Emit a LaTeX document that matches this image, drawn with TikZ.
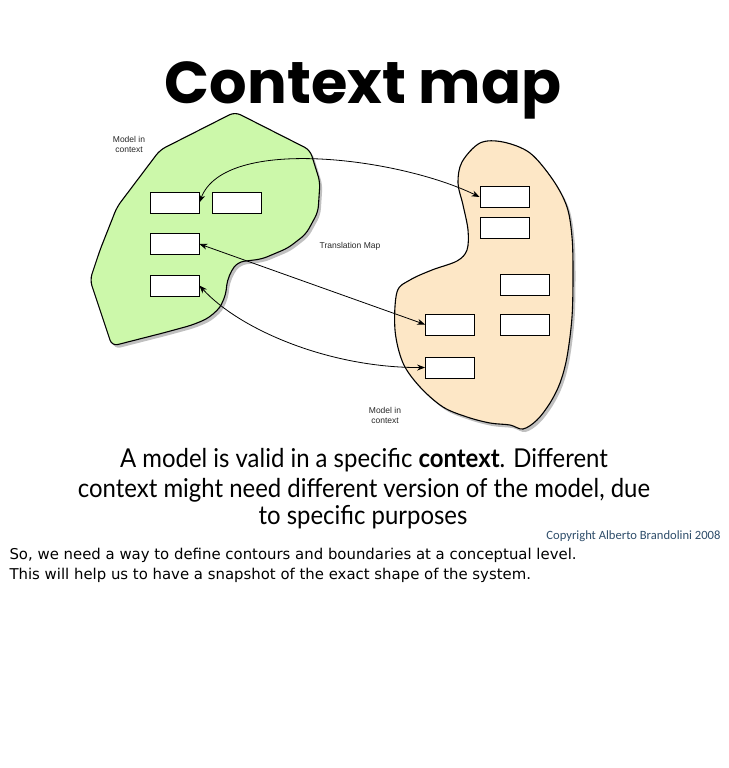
\documentclass[tikz,border=0pt]{standalone}
\usepackage{fontspec}
\setmainfont{Lato}
\newfontfamily\titlefont{Poppins}
\newfontfamily\capfont{Lato}[FakeStretch=0.92]
\newfontfamily\labelfont{Liberation Sans}
\newfontfamily\copyfont{Carlito}
\newfontfamily\notefont{DejaVu Sans}
\usetikzlibrary{arrows.meta,shadows}

\definecolor{ctxgreen}{RGB}{204,248,170}
\definecolor{ctxorange}{RGB}{253,231,198}
\definecolor{copyblue}{RGB}{47,78,107}
\definecolor{labelgray}{RGB}{40,40,40}

\tikzset{
  blob/.style={draw=black, line width=1.1pt, line join=round,
    drop shadow={shadow xshift=2.5pt, shadow yshift=-3pt, opacity=0.35, fill=black!70}},
  modelbox/.style={draw=black, fill=white, line width=0.8pt, inner sep=0pt,
    minimum width=49pt, minimum height=21pt},
  smalllabel/.style={font=\labelfont\fontsize{8.5}{10}\selectfont, text=labelgray, align=center},
  maplink/.style={line width=0.8pt, {Stealth[length=8pt,width=6pt]}-{Stealth[length=8pt,width=6pt]}},
  bodyline/.style={font=\capfont\fontsize{26}{30}\selectfont, anchor=base},
  noteline/.style={font=\notefont\fontsize{14.9}{19}\selectfont, anchor=base west}
}

\begin{document}
\begin{tikzpicture}[x=1pt,y=-1pt]
\useasboundingbox (0,0) rectangle (728,768);
\fill[white] (0,0) rectangle (728,768);

% title
\node[font=\titlefont\bfseries\fontsize{59}{59}\selectfont, anchor=base] (title) at (363,103) {Context map};

% left bounded context
\path[blob, fill=ctxgreen, rounded corners=6pt]
  (235,112) -- (310,150) -- (320,182) -- (318,212) -- (306,234) -- (288,248)
  -- (262,259) -- (238,262) [rounded corners=10pt] -- (228,275) -- (225,300)
  -- (214,315) -- (196,324) [rounded corners=6pt] -- (163,333) -- (112,346)
  -- (90,280) -- (100,250) -- (117,207) -- (160,150) -- cycle;

% right bounded context
\path[blob, fill=ctxorange]
  plot[smooth cycle, tension=0.55] coordinates {
  (480,143) (503,142) (530,153) (553,180) (567,207) (572,237) (573,273)
  (572,317) (567,357) (560,383) (550,403) (537,420) (523,429) (510,425)
  (490,423) (467,417) (443,407) (420,387) (403,363) (395,330) (397,292)
  (410,280) (432,270) (457,261) (467,250) (468,230) (463,205) (458,183)
  (462,162)};

% model elements
\node[modelbox] (a1) at (174.5,202.5) {};
\node[modelbox] (a2) at (237,202.5) {};
\node[modelbox] (b)  at (174.5,244) {};
\node[modelbox] (c)  at (174.5,285.5) {};
\node[modelbox] (d1) at (504.5,197) {};
\node[modelbox] (d2) at (504.5,228) {};
\node[modelbox] (e)  at (525,285) {};
\node[modelbox] (f)  at (450,324.5) {};
\node[modelbox] (g)  at (525,324.5) {};
\node[modelbox] (h)  at (450,367.5) {};

% labels
\node[smalllabel] (ctxleft)  at (129,144) {Model in\\context};
\node[smalllabel] (ctxright) at (385,415) {Model in\\context};
\node[smalllabel, anchor=center] (tmap) at (350,246) {Translation Map};

% translation map links
\draw[maplink] (a1.east) .. controls (225,135) and (400,158) .. (d1.west);
\draw[maplink] (b.east) -- (f.west);
\draw[maplink] (c.east) .. controls (240,330) and (330,368) .. (h.west);

% caption
\node[bodyline] (cap1) at (364,467) {A model is valid in a specific {\bfseries context}. Different};
\node[bodyline] (cap2) at (364,497) {context might need different version of the model, due};
\node[bodyline] (cap3) at (363,524) {to specific purposes};

\node[font=\copyfont\fontsize{12.6}{15}\selectfont, text=copyblue, anchor=base east] (copy) at (724,539) {Copyright Alberto Brandolini 2008};

\node[noteline] (note1) at (6,559) {So, we need a way to define contours and boundaries at a conceptual level.};
\node[noteline] (note2) at (6,579) {This will help us to have a snapshot of the exact shape of the system.};
\end{tikzpicture}
\end{document}
